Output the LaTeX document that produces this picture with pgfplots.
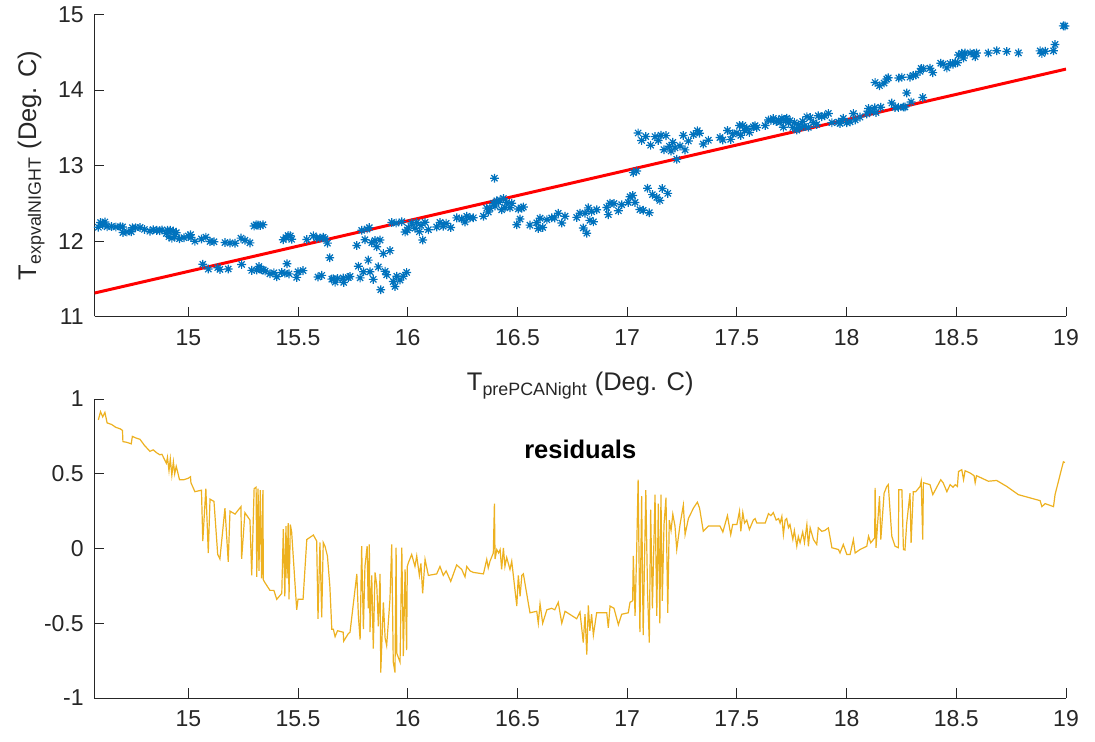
\documentclass[border=0pt]{standalone}
\usepackage{fontspec}
\setmainfont{Liberation Sans}
\usepackage{pgfplots}
\pgfplotsset{compat=1.18}
\usepackage{pgfplotstable}
\definecolor{mblue}{rgb}{0,0.447,0.741}
\definecolor{myellow}{rgb}{0.929,0.694,0.125}
\definecolor{axgray}{gray}{0.15}
\pgfdeclareplotmark{mstar}{%
 \pgfpathmoveto{\pgfqpoint{-\pgfplotmarksize}{0pt}}\pgfpathlineto{\pgfqpoint{\pgfplotmarksize}{0pt}}%
 \pgfpathmoveto{\pgfqpoint{0pt}{-\pgfplotmarksize}}\pgfpathlineto{\pgfqpoint{0pt}{\pgfplotmarksize}}%
 \pgfpathmoveto{\pgfqpoint{-0.707\pgfplotmarksize}{-0.707\pgfplotmarksize}}\pgfpathlineto{\pgfqpoint{0.707\pgfplotmarksize}{0.707\pgfplotmarksize}}%
 \pgfpathmoveto{\pgfqpoint{-0.707\pgfplotmarksize}{0.707\pgfplotmarksize}}\pgfpathlineto{\pgfqpoint{0.707\pgfplotmarksize}{-0.707\pgfplotmarksize}}%
 \pgfusepathqstroke}
% x = T_prePCANight, r = residual (T_expvalNIGHT minus fit 0.67 x + 1.547)
\pgfplotstableread{
x r
14.590 0.86
14.600 0.915
14.610 0.88
14.620 0.91
14.630 0.84
14.650 0.83
14.670 0.81
14.690 0.80
14.700 0.79
14.702 0.715
14.720 0.71
14.740 0.70
14.745 0.75
14.760 0.74
14.780 0.73
14.800 0.69
14.825 0.65
14.840 0.66
14.856 0.64
14.870 0.627
14.880 0.63
14.900 0.57
14.905 0.61
14.912 0.52
14.918 0.60
14.925 0.49
14.932 0.58
14.938 0.50
14.945 0.55
14.960 0.46
14.980 0.46
15.000 0.47
15.010 0.48
15.012 0.44
15.030 0.38
15.060 0.39
15.066 0.05
15.080 0.40
15.091 -0.03
15.099 0.33
15.117 0.315
15.134 -0.04
15.144 -0.07
15.167 0.27
15.182 -0.09
15.190 0.25
15.213 0.23
15.240 0.28
15.243 -0.07
15.258 0.24
15.281 0.19
15.289 -0.18
15.300 0.40
15.309 0.41
15.312 -0.19
15.318 0.40
15.322 -0.15
15.328 0.39
15.334 -0.20
15.340 0.39
15.342 -0.21
15.350 -0.23
15.372 -0.28
15.390 -0.28
15.403 -0.34
15.426 -0.30
15.433 0.13
15.440 -0.32
15.445 0.15
15.450 -0.20
15.455 0.17
15.459 -0.34
15.465 0.16
15.471 0.11
15.494 -0.41
15.500 -0.34
15.523 -0.34
15.540 0.06
15.570 0.09
15.585 0.05
15.591 -0.47
15.600 0.04
15.608 -0.46
15.615 0.04
15.623 0.015
15.634 -0.05
15.645 -0.25
15.654 -0.54
15.661 -0.54
15.669 -0.59
15.680 -0.55
15.706 -0.56
15.708 -0.62
15.729 -0.57
15.737 -0.56
15.768 -0.17
15.775 -0.45
15.783 -0.61
15.790 0.015
15.798 -0.54
15.805 -0.12
15.815 0.015
15.820 -0.40
15.825 0.027
15.828 -0.56
15.836 -0.18
15.843 -0.67
15.851 -0.16
15.859 -0.25
15.866 -0.52
15.874 -0.17
15.877 -0.83
15.889 -0.36
15.897 -0.60
15.904 -0.65
15.919 -0.34
15.927 0.027
15.934 -0.76
15.942 -0.83
15.947 0.006
15.950 -0.70
15.965 -0.76
15.973 0.006
15.980 -0.72
15.988 -0.14
15.995 -0.68
15.998 -0.12
16.003 -0.095
16.018 -0.04
16.033 -0.12
16.041 -0.05
16.053 -0.18
16.060 -0.10
16.068 -0.30
16.079 -0.073
16.094 -0.18
16.132 -0.17
16.147 -0.12
16.162 -0.18
16.175 -0.15
16.196 -0.22
16.223 -0.11
16.246 -0.14
16.261 -0.19
16.269 -0.12
16.284 -0.15
16.299 -0.16
16.345 -0.17
16.360 -0.073
16.367 -0.13
16.375 -0.085
16.390 -0.03
16.395 0.30
16.398 -0.07
16.406 -0.007
16.414 -0.03
16.421 -0.007
16.428 -0.14
16.436 0.004
16.443 -0.12
16.451 -0.06
16.466 -0.14
16.474 -0.085
16.497 -0.385
16.504 -0.18
16.512 -0.32
16.520 -0.18
16.527 -0.17
16.557 -0.43
16.588 -0.42
16.595 -0.50
16.603 -0.37
16.615 -0.50
16.634 -0.41
16.656 -0.40
16.670 -0.41
16.686 -0.36
16.702 -0.50
16.717 -0.42
16.770 -0.47
16.785 -0.425
16.800 -0.63
16.808 -0.44
16.816 -0.71
16.823 -0.38
16.830 -0.55
16.838 -0.44
16.846 -0.58
16.861 -0.43
16.907 -0.43
16.914 -0.53
16.922 -0.385
16.940 -0.40
16.960 -0.51
16.975 -0.44
17.005 -0.43
17.013 -0.36
17.025 -0.35
17.028 -0.05
17.036 -0.45
17.043 -0.04
17.050 0.46
17.058 -0.56
17.066 0.35
17.073 -0.58
17.085 0.39
17.093 -0.30
17.101 -0.63
17.107 0.26
17.115 -0.40
17.127 0.36
17.135 -0.45
17.142 0.30
17.149 -0.50
17.154 0.36
17.160 -0.35
17.168 0.16
17.177 0.34
17.185 -0.43
17.192 0.19
17.200 0.12
17.208 0.23
17.218 0.15
17.226 -0.007
17.241 0.16
17.256 0.29
17.264 0.093
17.279 0.20
17.302 0.27
17.320 0.31
17.330 0.27
17.347 0.115
17.370 0.15
17.423 0.15
17.436 0.11
17.457 0.22
17.472 0.093
17.481 0.16
17.500 0.16
17.512 0.25
17.518 0.115
17.527 0.24
17.535 0.17
17.545 0.19
17.557 0.127
17.575 0.19
17.583 0.20
17.591 0.17
17.629 0.17
17.644 0.233
17.655 0.22
17.666 0.24
17.679 0.19
17.690 0.20
17.697 0.17
17.705 0.215
17.712 0.093
17.720 0.19
17.727 0.20
17.735 0.14
17.742 0.16
17.755 0.06
17.762 0.12
17.773 0.015
17.780 0.08
17.788 0.038
17.800 0.11
17.808 0.04
17.819 0.16
17.826 0.015
17.834 0.138
17.849 0.06
17.864 0.027
17.871 0.138
17.887 0.115
17.900 0.12
17.917 0.138
17.933 0.005
17.963 -0.007
17.970 -0.03
17.985 0.027
18.001 -0.04
18.016 -0.04
18.031 0.06
18.039 -0.03
18.061 -0.007
18.092 0.015
18.100 0.082
18.110 0.038
18.128 0.071
18.130 0.405
18.134 0.005
18.150 0.35
18.156 0.06
18.171 0.37
18.183 0.415
18.190 0.427
18.206 0.082
18.221 0.015
18.236 0.005
18.238 0.393
18.252 0.393
18.259 -0.007
18.266 -0.01
18.274 0.17
18.289 0.37
18.294 0.038
18.304 0.38
18.315 0.38
18.335 0.415
18.340 0.45
18.347 0.06
18.350 0.44
18.380 0.427
18.393 0.36
18.429 0.46
18.440 0.44
18.457 0.38
18.472 0.427
18.485 0.41
18.495 0.427
18.505 0.415
18.510 0.515
18.525 0.527
18.533 0.46
18.540 0.52
18.563 0.505
18.581 0.487
18.586 0.44
18.592 0.487
18.646 0.45
18.684 0.455
18.730 0.415
18.783 0.36
18.882 0.32
18.890 0.28
18.905 0.30
18.943 0.28
18.950 0.36
18.988 0.58
18.995 0.575
}\datatab
\pgfplotsset{
  common/.style={
    scale only axis, width=485.75pt,
    xmin=14.5725, xmax=19, enlargelimits=false,
    axis lines=left,
    axis line style={-, axgray, line width=0.45pt},
    every outer x axis line/.append style={-},
    every outer y axis line/.append style={-},
    every inner x axis line/.append style={-},
    every inner y axis line/.append style={-},
    tick align=inside, major tick length=4.75pt,
    tick style={axgray, line width=0.45pt},
    xtick={15,15.5,...,19},
    /pgf/number format/assume math mode=true,
    tick label style={font=\fontsize{11.5}{13}\selectfont, text=axgray},
    xticklabel style={yshift=-2.9pt},
    yticklabel style={xshift=-1.9pt},
    label style={font=\fontsize{12.75}{14}\selectfont, text=axgray, inner sep=0pt},
  }
}
\begin{document}
\begin{tikzpicture}
\useasboundingbox (0,0) rectangle (547.5pt,371pt);
\begin{axis}[common, at={(47.25pt,212.75pt)}, anchor=south west, height=151pt,
  ymin=11, ymax=15, ytick={11,12,13,14,15},
  xlabel={T\textsubscript{prePCANight} (Deg. C)},
  ylabel={T\textsubscript{expvalNIGHT} (Deg. C)},
  xlabel style={at={(axis description cs:0.5,0)}, anchor=north, yshift=-27.5pt},
  ylabel style={at={(axis description cs:-0.051,0.5)}, anchor=south},
]
\addplot[only marks, mark=mstar, mark size=2.2pt, color=mblue, line width=0.6pt]
  table[x=x, y expr=\thisrow{r}+0.67*\thisrow{x}+1.547] {\datatab};
\addplot[red, line width=1.5pt] coordinates {(14.5725,11.3106) (19,14.277)};
\end{axis}
\begin{axis}[common, at={(47.25pt,22pt)}, anchor=south west, height=149.5pt,
  ymin=-1, ymax=1, ytick={-1,-0.5,0,0.5,1},
  title={\textbf{residuals}},
  title style={at={(axis description cs:0.5,0.79)}, anchor=center, font=\fontsize{12.75}{14}\selectfont\bfseries, text=black},
]
\addplot[myellow, line width=0.6pt] table[x=x, y=r] {\datatab};
\end{axis}
\end{tikzpicture}
\end{document}
